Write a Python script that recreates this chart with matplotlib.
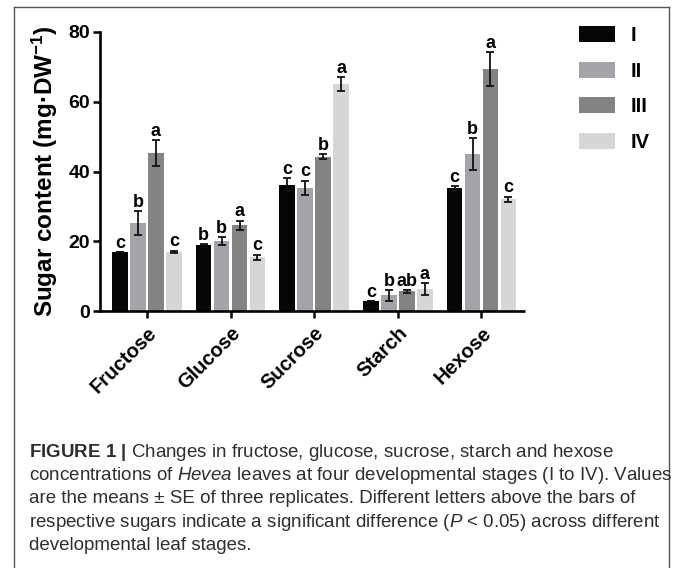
#!/usr/bin/env python3
import numpy as np
import matplotlib
matplotlib.use('Agg')
import matplotlib.pyplot as plt
from matplotlib.lines import Line2D
from matplotlib.patches import Patch

sugars = ['Fructose', 'Glucose', 'Sucrose', 'Starch', 'Hexose']
stages = ['I', 'II', 'III', 'IV']

# mean sugar content (mg per DW), one list per stage, in the order of sugars
stage_I = [17.0, 18.8, 36.2, 2.8, 35.3]
stage_II = [25.3, 20.0, 35.4, 4.5, 45.0]
stage_III = [45.2, 24.6, 44.3, 5.6, 69.4]
stage_IV = [17.0, 15.4, 65.1, 6.3, 32.0]

# standard errors
se_I = [0.0, 0.4, 1.8, 0.0, 0.6]
se_II = [3.4, 1.2, 2.0, 1.5, 4.5]
se_III = [3.7, 1.3, 0.7, 0.3, 4.8]
se_IV = [0.3, 0.8, 2.0, 1.8, 0.8]

# significance letters
letters_I = ['c', 'b', 'c', 'c', 'c']
letters_II = ['b', 'b', 'c', 'b', 'b']
letters_III = ['a', 'a', 'b', 'ab', 'a']
letters_IV = ['c', 'c', 'a', 'a', 'c']

yticks = [0, 20, 40, 60, 80]

caption = [
    r'$\mathbf{FIGURE\ 1\ |}$ Changes in fructose, glucose, sucrose, starch and hexose',
    r'concentrations of $\mathit{Hevea}$ leaves at four developmental stages (I to IV). Values',
    'are the means \u00b1 SE of three replicates. Different letters above the bars of',
    r'respective sugars indicate a significant difference ($\mathit{P}$ < 0.05) across different',
    'developmental leaf stages.',
]

colors = ['#050505', '#a3a3a8', '#838383', '#d6d6d6']
W, H = 673, 568


def main():
    plt.rcParams['font.family'] = ['Liberation Sans', 'DejaVu Sans']
    plt.rcParams['mathtext.fontset'] = 'custom'
    plt.rcParams['mathtext.rm'] = 'Liberation Sans'
    plt.rcParams['mathtext.it'] = 'Liberation Sans:italic'
    plt.rcParams['mathtext.bf'] = 'Liberation Sans:bold'
    fig = plt.figure(figsize=(W / 100, H / 100), dpi=100)
    ax = fig.add_axes([100 / W, 1 - 311 / H, 425 / W, 279 / H])
    plot_bars(fig, ax)
    draw_frame(fig)
    draw_caption(fig)
    fig.savefig('out.png', dpi=100)


def plot_bars(fig, ax):
    means = [stage_I, stage_II, stage_III, stage_IV]
    errs = [se_I, se_II, se_III, se_IV]
    letters = [letters_I, letters_II, letters_III, letters_IV]
    x = np.arange(len(sugars))
    step, width = 0.215, 0.19
    offsets = (np.arange(len(stages)) - 1.5) * step
    for k in range(len(stages)):
        xs = x + offsets[k]
        ax.bar(xs, means[k], width=width, color=colors[k], zorder=2)
        ax.errorbar(xs, means[k], yerr=errs[k], fmt='none', ecolor='#111111',
                    elinewidth=1.3, capsize=2.8, capthick=1.3, zorder=3)
        for xi, m, e, lab in zip(xs, means[k], errs[k], letters[k]):
            ax.text(xi, m + e + 1.2, lab, ha='center', va='baseline',
                    fontsize=13, fontweight='bold', zorder=4)

    ax.set_xlim(-0.56, 4.52)
    ax.set_ylim(0, 80)
    ax.set_yticks(yticks)
    ax.set_xticks(x)
    ax.set_xticklabels(sugars, rotation=45, ha='right', va='top',
                       rotation_mode='anchor', fontsize=14.5, fontweight='bold')
    for lab in ax.get_yticklabels():
        lab.set_fontsize(14)
        lab.set_fontweight('bold')
    ax.tick_params(axis='both', direction='out', length=5, width=1.8, color='black')
    ax.tick_params(axis='y', pad=2)
    ax.tick_params(axis='x', pad=4)
    for side in ('top', 'right'):
        ax.spines[side].set_visible(False)
    for side in ('left', 'bottom'):
        ax.spines[side].set_linewidth(1.9)
    ax.spines['bottom'].set_capstyle('butt')
    ax.set_ylabel('Sugar content (mg\u00b7DW$^{\\mathregular{-1}}$)', fontsize=17.5,
                  fontweight='bold', labelpad=6)

    handles = [Patch(facecolor=c, edgecolor='none') for c in colors]
    fig.legend(handles, stages, loc='upper left', bbox_to_anchor=(561 / W, 1 - 8 / H),
               frameon=False, handlelength=1.8, handleheight=0.85, handletextpad=0.75,
               labelspacing=0.82, prop={'weight': 'bold', 'size': 14.5})


def draw_frame(fig):
    lc = '#555555'
    x0, x1, y0 = 13.5 / W, 669 / W, 1 - 6.5 / H
    fig.add_artist(Line2D([x0, x0], [0, y0], color=lc, lw=1.0))
    fig.add_artist(Line2D([x1, x1], [0, y0], color=lc, lw=1.0))
    fig.add_artist(Line2D([x0, x1], [y0, y0], color=lc, lw=1.0))


def draw_caption(fig):
    base = 457
    for i, line in enumerate(caption):
        fig.text(29 / W, 1 - (base + 23.2 * i) / H, line, fontsize=13.5,
                 color='#2e2e2e', ha='left', va='baseline')


if __name__ == "__main__":
    main()
